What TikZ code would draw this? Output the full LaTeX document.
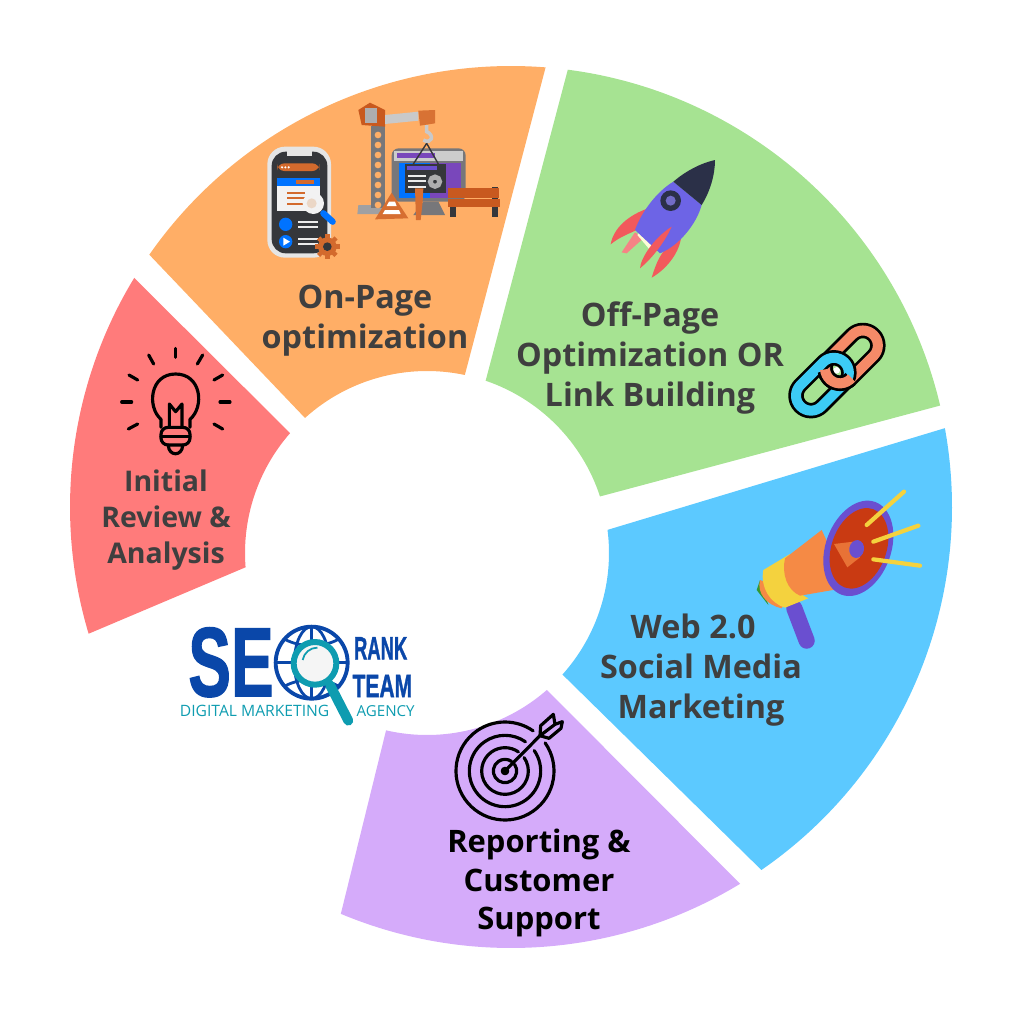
\documentclass[tikz,border=0pt]{standalone}
\usepackage{fontspec}
\setmainfont{Open Sans}
\newfontfamily\logofont[FakeBold=1.5]{Liberation Sans}
\usepackage{xcolor}
\usepackage{tikz}
\usetikzlibrary{calc}
\definecolor{seg_red}{HTML}{FF7B7B}
\definecolor{seg_orange}{HTML}{FFAE66}
\definecolor{seg_green}{HTML}{A6E392}
\definecolor{seg_blue}{HTML}{5CC9FF}
\definecolor{seg_purple}{HTML}{D5ABFA}
\definecolor{label_gray}{HTML}{3F3F3F}
\definecolor{logo_blue}{HTML}{0A47A9}
\definecolor{logo_teal}{HTML}{0E9CB0}
\definecolor{mega_purple}{HTML}{6A4FD0}
\definecolor{mega_orange}{HTML}{F58A45}
\definecolor{mega_red}{HTML}{C93A12}
\definecolor{mega_yellow}{HTML}{F4D23E}
\definecolor{rocket_blue}{HTML}{6D64E6}
\definecolor{rocket_dark}{HTML}{2B3048}
\definecolor{rocket_red}{HTML}{F2595C}
\definecolor{chain_orange}{HTML}{F58A68}
\definecolor{chain_blue}{HTML}{3CCBF5}
\definecolor{crane_brown}{HTML}{C8591F}
\definecolor{crane_gray}{HTML}{77777A}
\definecolor{screen_dark}{HTML}{35373B}
\tikzset{ seg_label/.style = {font=\bfseries\fontsize{9.2}{11.45}\selectfont, text=label_gray, align=center} }
\tikzset{ icon_line/.style = {line width=0.9pt, line cap=round, line join=round} }
\newcommand{\seosector}[5]{\fill[#1] ($(511,507)+(#2:441)$) arc[start angle=#2, end angle=#3, radius=441] -- ($(427,553)+(#5:182)$) arc[start angle=#5, end angle=#4, radius=182] -- cycle;}
\newcommand{\chainlink}[4]{\draw[#1, line join=round] (#2,#3) [rotate around={45:(#2,#3)}] ++(0,-45) -- ++(#4,0) arc[start angle=-90, end angle=90, radius=45] -- ++(-#4,0) arc[start angle=90, end angle=270, radius=45] -- cycle;}
\begin{document}
\begin{tikzpicture}[x=0.01cm, y=-0.01cm]
    \useasboundingbox (0,0) rectangle (1024,1024);
    \seosector{seg_red}{163.3}{211.3}{175.5}{221.2}
    \seosector{seg_orange}{214.9}{274.5}{227.9}{282}
    \seosector{seg_green}{277.4}{346.7}{288.8}{341.9}
    \seosector{seg_blue}{349.7}{415.4}{352.7}{401.9}
    \seosector{seg_purple}{58.7}{112.7}{48.8}{103}

    \node[seg_label, font=\bfseries\fontsize{8.1}{10.25}\selectfont] (review) at (166,520) {Initial\\Review \&\\Analysis};
    \node[seg_label] (onpage) at (365,321) {On-Page\\optimization};
    \node[seg_label] (offpage) at (650,358) {Off-Page\\Optimization OR\\Link Building};
    \node[seg_label] (web) at (701,670) {Web 2.0\hspace*{4.5pt}\\Social Media\\Marketing};
    \node[seg_label, text=black, font=\bfseries\fontsize{8.8}{10.95}\selectfont] (report) at (539,883) {Reporting \&\\Customer\\Support};

    \begin{scope}[shift={(110,340)}, scale=1/3, icon_line, black]
        \foreach \xa/\ya/\xb/\yb in {197/25/197/52, 116/45/131/72, 57/105/83/120, 35/186/65/186, 55/267/83/252, 262/72/278/45, 312/120/338/105, 330/186/360/186, 312/252/338/267}
            \draw (\xa,\ya) -- (\xb,\yb);
        \draw (153,262) -- (153,238) .. controls (110,200) and (120,102) .. (197,102) .. controls (274,102) and (284,200) .. (240,238) -- (240,262);
        \draw[rounded corners=2pt] (153,262) rectangle (240,315);
        \draw (153,290) -- (240,290);
        \draw (175,315) .. controls (175,350) and (218,350) .. (218,315);
        \draw (178,262) -- (178,192) -- (197,215) -- (216,192) -- (216,262);
    \end{scope}

    \begin{scope}[shift={(445,705)}, scale=1/3, icon_line, black]
        \foreach \r in {147,107,70,35}
            \draw (180,198) ++(325:\r) arc[start angle=325, end angle=665, radius=\r];
        \draw (180,198) circle[radius=8];
        \draw (180,198) -- (285,92);
        \draw (285,92) -- (287,62) -- (325,28) -- (330,58) -- (352,50) -- (348,70) -- (312,100) -- cycle;
        \draw (285,92) -- (330,58);
    \end{scope}

    \begin{scope}[shift={(780,315)}, scale=1/3]
        \fill[white] (170,166) circle[radius=10];
        \chainlink{line width=4.4pt, black}{180}{160}{97}
        \chainlink{line width=2.85pt, chain_orange}{180}{160}{97}
        \chainlink{line width=4.4pt, black}{93}{242}{97}
        \chainlink{line width=2.85pt, chain_blue}{93}{242}{97}
        \draw[line width=4.4pt, black] (211.8,191.8) arc[start angle=45, end angle=172, radius=45];
        \draw[line width=2.85pt, chain_orange] (214.5,188.9) arc[start angle=40, end angle=176, radius=45];
    \end{scope}

    \begin{scope}[shift={(600,155)}, scale=1/3]
        \fill[rocket_red] (145,160) .. controls (85,180) and (40,220) .. (32,268) .. controls (60,245) and (90,235) .. (110,225) -- cycle;
        \fill[rocket_red] (243,250) .. controls (235,300) and (195,345) .. (155,368) .. controls (165,335) and (175,310) .. (190,290) -- cycle;
        \fill[rocket_red!75!white] (105,232) -- (65,292) -- (80,295) -- (130,250) -- cycle;
        \fill[white!85!yellow] (112,240) -- (150,285) -- (165,270) -- (125,225) -- cycle;
        \fill[rocket_blue] (220,80) .. controls (170,110) and (125,170) .. (105,225) -- (180,295) .. controls (240,270) and (290,205) .. (305,150) -- cycle;
        \fill[rocket_dark] (220,80) .. controls (255,50) and (300,25) .. (345,15) .. controls (345,60) and (330,110) .. (305,150) -- cycle;
        \fill[rocket_red] (215,215) .. controls (190,270) and (150,315) .. (120,340) .. controls (122,310) and (160,250) .. (215,215) -- cycle;
        \fill[rocket_dark] (212,137) circle[radius=31];
        \fill[rocket_blue!70!gray] (212,137) circle[radius=15];
    \end{scope}

    \begin{scope}[shift={(740,480)}, scale=1/3]
        \draw[line width=4.6pt, line cap=round, mega_purple] (163,385) -- (200,482);
        \fill[green!50!black!80] (60,300) -- (50,330) -- (85,375) -- cycle;
        \fill[mega_orange] (60,300) .. controls (50,340) and (80,375) .. (125,385) -- (150,330) -- cycle;
        \fill[mega_yellow] (70,270) -- (150,222) .. controls (130,260) and (150,330) .. (205,355) -- (135,383) .. controls (90,370) and (60,320) .. (70,270) -- cycle;
        \fill[mega_orange] (135,235) -- (245,150) -- (325,322) -- (180,347) .. controls (140,330) and (125,280) .. (135,235) -- cycle;
        \fill[mega_purple, rotate around={-20:(355,205)}] (355,205) ellipse[x radius=98, y radius=148];
        \fill[mega_red, rotate around={-20:(357,205)}] (357,205) ellipse[x radius=82, y radius=125];
        \fill[mega_orange!70!mega_red] (282,192) -- (340,185) -- (360,232) -- (322,262) -- cycle;
        \fill[mega_purple, rotate around={-10:(350,207)}] (350,207) ellipse[x radius=22, y radius=27];
        \draw[line width=1.2pt, line cap=round, mega_yellow] (380,135) -- (492,35);
        \draw[line width=1.2pt, line cap=round, mega_yellow] (400,185) -- (535,137);
        \draw[line width=1.2pt, line cap=round, mega_yellow] (400,238) -- (540,257);
    \end{scope}

    \begin{scope}[shift={(250,90)}, scale=1/3]
        \fill[crane_gray!70!white] (325,345) -- (405,345) -- (405,372) -- (322,372) -- cycle;
        \fill[crane_gray] (363,108) rectangle (405,355);
        \foreach \yy in {120,150,...,330}
            \fill[seg_orange] (384,\yy+15) circle[radius=10];
        \fill[crane_brown] (325,60) -- (360,38) -- (405,60) -- (405,110) -- (335,105) -- cycle;
        \fill[crane_gray!60!white] (345,55) rectangle (382,98);
        \fill[crane_gray!40!white] (405,75) -- (505,65) -- (505,92) -- (405,102) -- cycle;
        \fill[crane_brown!70!seg_orange] (505,62) -- (555,60) -- (555,100) -- (510,107) -- cycle;
        \fill[crane_gray, rounded corners=2pt] (425,175) rectangle (647,335);
        \fill[gray!40!white] (432,182) rectangle (640,212);
        \fill[mega_purple!90!red] (440,190) rectangle (555,205);
        \fill[blue!55!cyan] (448,218) rectangle (540,325);
        \fill[mega_purple!90!red] (540,218) rectangle (632,325);
        \fill[screen_dark] (465,223) rectangle (587,310);
        \fill[mega_purple] (470,228) rectangle (560,240);
        \foreach \yy in {258,274,290}
            \fill[white!85!gray] (475,\yy-3) rectangle (528,\yy+3);
        \draw[line width=1.4pt, crane_gray!60!white] (555,275) circle[radius=14];
        \draw[line width=1pt, crane_gray!40!white] (530,105) -- (530,125) .. controls (555,135) and (545,165) .. (520,150);
        \draw[line width=0.4pt, screen_dark] (530,160) -- (490,222) (530,160) -- (565,222);
        \fill[crane_gray] (520,335) -- (565,335) -- (585,375) -- (490,375) -- cycle;
        \fill[crane_brown!75!seg_orange] (495,295) -- (520,295) -- (518,335) -- (512,390) -- (498,390) -- cycle;
        \fill[crane_brown!75!seg_orange] (425,308) -- (475,385) -- (375,388) -- cycle;
        \fill[white] (417,335) -- (435,335) -- (440,348) -- (410,348) -- cycle;
        \fill[white] (405,360) -- (447,360) -- (452,372) -- (398,372) -- cycle;
        \fill[screen_dark] (600,340) rectangle (617,382);
        \fill[screen_dark] (725,290) rectangle (745,382);
        \fill[crane_brown] (593,295) rectangle (748,323);
        \fill[crane_brown] (593,327) rectangle (750,352);
    \end{scope}

    \begin{scope}[shift={(250,90)}, scale=1/3]
        \fill[gray!20!white, rounded corners=5pt] (52,170) rectangle (243,503);
        \fill[screen_dark, rounded corners=4pt] (65,185) rectangle (232,490);
        \fill[gray!20!white] (110,182) rectangle (185,197);
        \fill[crane_brown!80!seg_orange, rounded corners=2pt] (82,220) rectangle (208,243);
        \fill[gray!10!white] (82,265) rectangle (210,362);
        \fill[blue!55!cyan] (82,265) rectangle (210,288);
        \fill[crane_brown!80!seg_orange] (138,270) rectangle (192,282);
        \foreach \xx in {96,106,116}
            \fill[white] (\xx,232) circle[radius=3.5];
        \foreach \yy in {309,325,341}
            \fill[crane_brown!80!seg_orange] (112,\yy-3) rectangle (165,\yy+3);
        \fill[blue!55!cyan] (107,403) circle[radius=20];
        \fill[blue!55!cyan] (107,455) circle[radius=20];
        \fill[white] (100,443) -- (120,455) -- (100,467) -- cycle;
        \foreach \yy in {396,411,447,462}
            \fill[white!85!gray] (145,\yy-4) rectangle (205,\yy+4);
        \draw[line width=1.8pt, line cap=round, blue!55!cyan] (220,370) -- (248,395);
        \fill[gray!10!white] (190,340) circle[radius=32];
        \fill[seg_orange!60!gray!40!white] (185,340) circle[radius=15];
        \foreach \a in {0,45,...,315}
            \draw[line width=1.3pt, crane_brown!80!seg_orange] (232,470) -- ++(\a:37);
        \fill[crane_brown!80!seg_orange] (232,470) circle[radius=28];
        \fill[screen_dark] (232,470) circle[radius=13];
    \end{scope}

    \begin{scope}[shift={(170,610)}, scale=1/3]
        \node[inner sep=0pt, text=logo_blue, font=\logofont\bfseries\fontsize{28}{29}\selectfont] (logo_se) at (183,157) {\scalebox{0.65}[1]{SE}};
        \draw[line width=1.1pt, logo_blue] (425,158) circle[radius=108];
        \draw[line width=0.8pt, logo_blue] (425,158) ellipse[x radius=52, y radius=108];
        \draw[line width=0.8pt, logo_blue] (425,50) -- (425,266) (317,158) -- (533,158);
        \draw[line width=0.8pt, logo_blue] (345,88) .. controls (390,113) and (460,113) .. (505,88);
        \draw[line width=0.8pt, logo_blue] (345,228) .. controls (390,203) and (460,203) .. (505,228);
        \draw[line width=2.8pt, line cap=round, logo_teal] (480,225) -- (535,332);
        \draw[line width=1.7pt, logo_teal, fill=gray!8!white] (435,160) circle[radius=64];
        \draw[line width=0.5pt, logo_teal] (398,150) arc[start angle=190, end angle=270, radius=45];
        \node[inner sep=0pt, text=logo_blue, font=\logofont\bfseries\fontsize{9.2}{10}\selectfont] (logo_rank) at (632,115) {\scalebox{0.57}[1]{RANK}};
        \node[inner sep=0pt, text=logo_blue, font=\logofont\bfseries\fontsize{9.2}{10}\selectfont] (logo_team) at (637,228) {\scalebox{0.65}[1]{TEAM}};
        \node[inner sep=0pt, text=logo_teal, font=\fontsize{4.45}{5}\selectfont] (logo_digital) at (254,304) {DIGITAL MARKETING};
        \node[inner sep=0pt, text=logo_teal, font=\fontsize{4.3}{5}\selectfont] (logo_agency) at (647,304) {AGENCY};
    \end{scope}
\end{tikzpicture}
\end{document}
